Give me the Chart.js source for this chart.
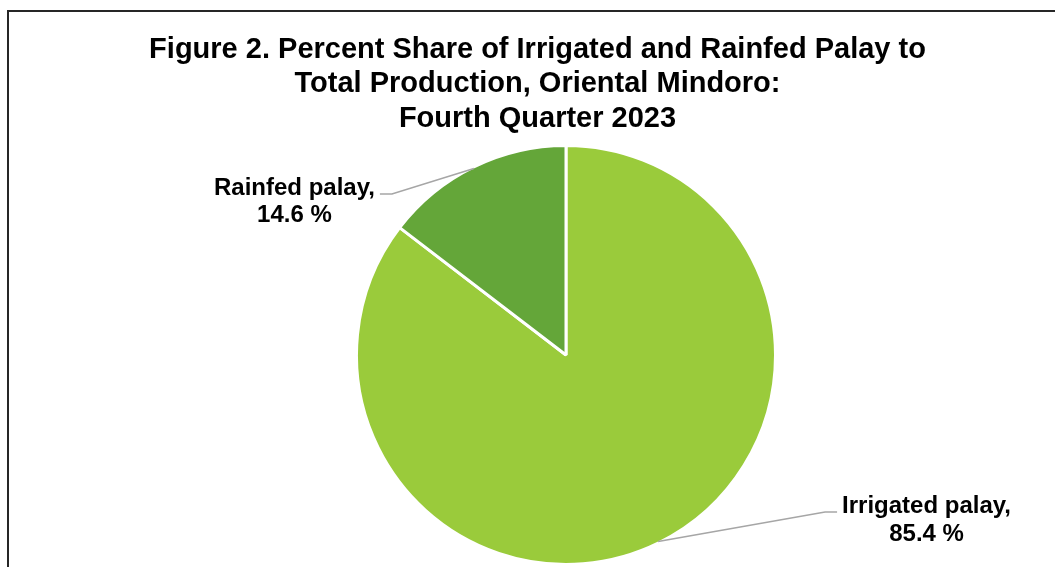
<!DOCTYPE html>
<html>
<head>
<meta charset="utf-8">
<script src="https://cdn.jsdelivr.net/npm/chart.js@4.4.1/dist/chart.umd.min.js"></script>
<style>
    html, body {
        margin: 0;
        padding: 0;
        background: #ffffff;
        overflow: hidden;
        width: 1055px;
        height: 567px;
    }
    #frame {
        position: absolute;
        left: 7px;
        top: 10px;
        width: 1100px;
        height: 620px;
        border: 2px solid #262626;
        box-sizing: border-box;
    }
    #chart {
        position: absolute;
        left: 0;
        top: 0;
    }
</style>
</head>
<body>
<div id="frame"></div>
<canvas id="chart" width="1055" height="567"></canvas>
<script>
const categories = ["Irrigated palay", "Rainfed palay"];
const shares = [85.4, 14.6];
const sliceColors = ["#9ACB3B", "#64A639"];
const titleLines = [
    "Figure 2. Percent Share of Irrigated and Rainfed Palay to",
    "Total Production, Oriental Mindoro:",
    "Fourth Quarter 2023",
];

const FONT = "'Liberation Sans', Arial, sans-serif";

// title drawn by hand so it can sit off the pie's centre line
const titlePlugin = {
    id: "titleBlock",
    afterDraw(chart, args, opts) {
        const ctx = chart.ctx;
        ctx.save();
        ctx.font = `bold ${opts.size}px ${FONT}`;
        ctx.fillStyle = "#000000";
        ctx.textAlign = "center";
        ctx.textBaseline = "alphabetic";
        titleLines.forEach((line, i) => {
            ctx.fillText(line, opts.x, opts.top + i * opts.lineHeight);
        });
        ctx.restore();
    },
};

// outside labels with leader lines, anchored on each arc's mid angle
const leaderPlugin = {
    id: "leaderLabels",
    afterDatasetsDraw(chart, args, opts) {
        const ctx = chart.ctx;
        const meta = chart.getDatasetMeta(0);
        ctx.save();
        ctx.font = `bold ${opts.size}px ${FONT}`;
        meta.data.forEach((arc, i) => {
            const p = arc.getProps(["x", "y", "startAngle", "endAngle", "outerRadius"], true);
            const mid = (p.startAngle + p.endAngle) / 2;
            const ax = p.x + Math.cos(mid) * (p.outerRadius - 1.5);
            const ay = p.y + Math.sin(mid) * (p.outerRadius - 1.5);
            const off = opts.offsets[i];
            const ex = ax + off.dx;
            const ey = ay + off.dy;
            const dir = off.dx > 0 ? 1 : -1;
            const hx = ex + dir * 12;

            ctx.strokeStyle = "#A6A6A6";
            ctx.lineWidth = 1.5;
            ctx.beginPath();
            ctx.moveTo(ax, ay);
            ctx.lineTo(ex, ey);
            ctx.lineTo(hx, ey);
            ctx.stroke();

            const lines = [`${categories[i]},`, `${shares[i].toFixed(1)} %`];
            const w = Math.max(...lines.map((l) => ctx.measureText(l).width));
            const cx = hx + dir * (5 + w / 2);
            ctx.fillStyle = "#000000";
            ctx.textAlign = "center";
            ctx.textBaseline = "alphabetic";
            lines.forEach((l, k) => {
                ctx.fillText(l, cx, ey + 1 + k * opts.lineHeight);
            });
        });
        ctx.restore();
    },
};

new Chart(document.getElementById("chart"), {
    type: "pie",
    data: {
        labels: categories,
        datasets: [
            {
                data: shares,
                backgroundColor: sliceColors,
                borderColor: "#ffffff",
                borderWidth: 3,
            },
        ],
    },
    options: {
        responsive: false,
        animation: false,
        devicePixelRatio: 1,
        radius: 209.5,
        layout: {
            padding: { left: 320, right: 243, top: 147, bottom: 4 },
        },
        plugins: {
            legend: { display: false },
            tooltip: { enabled: false },
            title: { display: false },
            titleBlock: { x: 537.5, top: 57.5, lineHeight: 34.5, size: 29 },
            leaderLabels: {
                size: 24,
                lineHeight: 27.5,
                offsets: [
                    { dx: 167, dy: -29.5 },
                    { dx: -82, dy: 25.5 },
                ],
            },
        },
    },
    plugins: [titlePlugin, leaderPlugin],
});
</script>
</body>
</html>
